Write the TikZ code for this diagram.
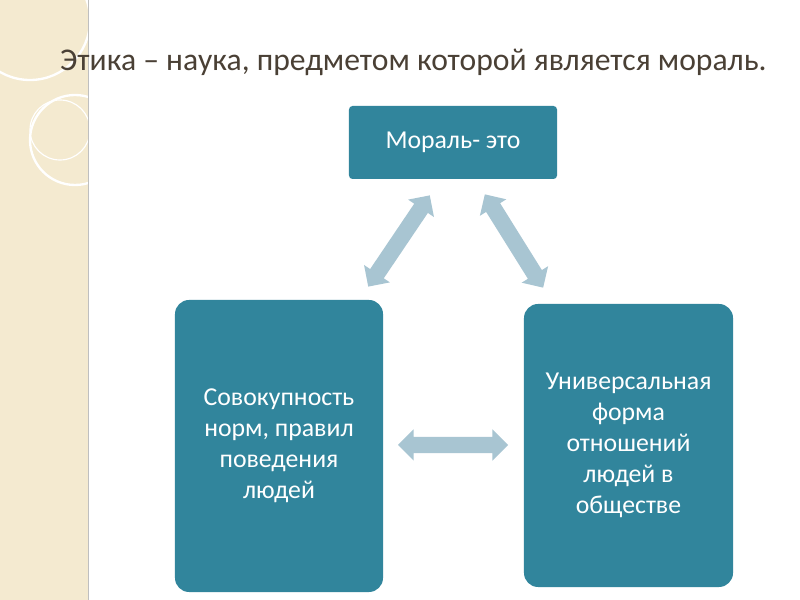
\documentclass[tikz,border=0pt]{standalone}
\usepackage{fontspec}
\setmainfont{Carlito}
\usetikzlibrary{shapes.arrows}
\definecolor{teal1}{HTML}{31859C}
\definecolor{arr}{HTML}{A8C5D2}
\definecolor{beige}{HTML}{F4EAD0}
\definecolor{titlec}{HTML}{4A4035}
\tikzset{
 box/.style={fill=teal1,rounded corners=8pt,text=white,align=center,font=\fontsize{22}{26.5}\selectfont},
 darr/.style={double arrow,fill=arr,draw=none,minimum height=3.3cm,inner xsep=0pt,inner ysep=0.24cm,double arrow head extend=0.22cm}
}
\begin{document}
\begin{tikzpicture}[x=0.03cm,y=-0.03cm]
\useasboundingbox (0,0) rectangle (800,600);
\fill[white] (0,0) rectangle (800,600);
\fill[beige] (0,0) rectangle (88,600);
\begin{scope}
\clip (0,0) rectangle (110,600);
\draw[white,line width=2pt] (30,20) circle (60);
\draw[white,line width=2pt] (75,140) circle (45);
\draw[white,line width=1pt] (60,130) circle (30);
\end{scope}
\draw[gray!50] (88,0) -- (88,600);
\node[text=titlec,font=\fontsize{27}{30}\selectfont,anchor=west] (title) at (56,62) {Этика – наука, предметом которой является мораль.};
\node[box,rounded corners=3pt,minimum width=6.24cm,minimum height=2.19cm] (top) at (453,142.5) {Мораль- это};
\node[box,rounded corners=12pt,minimum width=6.24cm,minimum height=8.76cm] (left) at (279,446) {Совокупность\\норм, правил\\поведения\\людей};
\node[box,rounded corners=12pt,minimum width=6.27cm,minimum height=8.49cm] (right) at (628.5,445.5) {Универсальная\\форма\\отношений\\людей в\\обществе};
\node[darr,rotate=56] (a1) at (399,241) {};
\node[darr,rotate=-58] (a2) at (514,241) {};
\node[darr] (a3) at (453,445) {};
\end{tikzpicture}
\end{document}
